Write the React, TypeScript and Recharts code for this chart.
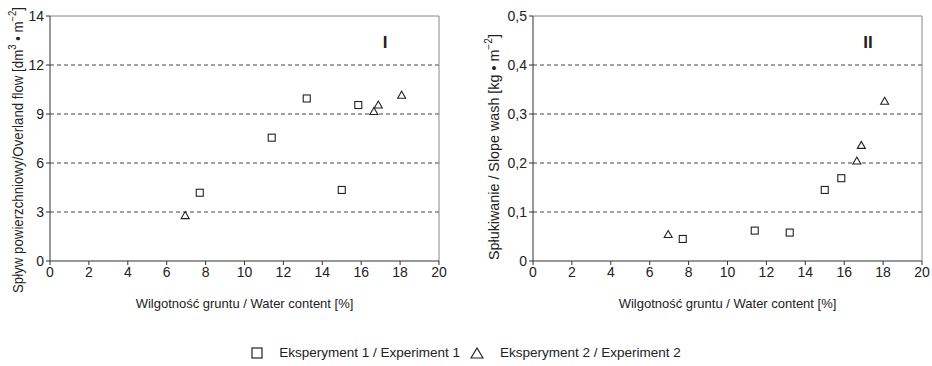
import React from 'react';
import { ScatterChart, Scatter, XAxis, YAxis, ReferenceLine, Label } from 'recharts';

// Water content [%] for both experiments
const waterContent1 = [7.7, 11.4, 13.2, 15.0, 15.85];
const waterContent2 = [6.95, 16.65, 16.88, 18.08];

// Panel I: overland flow [dm3 m-2]
const flow1 = [4.18, 7.55, 9.95, 4.35, 9.55];
const flow2 = [2.78, 9.15, 9.55, 10.15];

// Panel II: slope wash [kg m-2]
const wash1 = [0.045, 0.062, 0.058, 0.145, 0.169];
const wash2 = [0.054, 0.204, 0.236, 0.326];

const xTicks = [0, 2, 4, 6, 8, 10, 12, 14, 16, 18, 20];
const flowTicks = [0, 3, 6, 9, 12, 15];
const flowTickLabels = ['0', '3', '6', '9', '12', '14'];
const washTicks = [0, 0.1, 0.2, 0.3, 0.4, 0.5];

const FONT = "'Liberation Sans', Arial, sans-serif";
const INK = '#222';

const toPoints = (xs: number[], ys: number[]) => xs.map((x, i) => ({ x, y: ys[i] }));

const SquareDot = (props: any) => {
  const { cx, cy } = props;
  if (cx == null || cy == null) return null;
  return <rect x={cx - 3.5} y={cy - 3.5} width={7} height={7} fill="#fff" stroke={INK} strokeWidth={1.1} />;
};

const TriangleDot = (props: any) => {
  const { cx, cy } = props;
  if (cx == null || cy == null) return null;
  return (
    <polygon
      points={`${cx},${cy - 4} ${cx + 4},${cy + 3} ${cx - 4},${cy + 3}`}
      fill="#fff"
      stroke={INK}
      strokeWidth={1.1}
    />
  );
};

interface PanelProps {
  ys1: number[];
  ys2: number[];
  ticks: number[];
  tickFormat: (v: number) => string;
  yTitle: React.ReactNode;
  yTitleLength: number;
  yTitleX: number;
  yTitleY: number;
  tag: string;
}

function Panel({ ys1, ys2, ticks, tickFormat, yTitle, yTitleLength, yTitleX, yTitleY, tag }: PanelProps) {
  const top = ticks[ticks.length - 1];
  const tickStyle = { fontSize: 14, fill: INK, fontFamily: FONT };
  return (
    <ScatterChart width={466} height={320} margin={{ top: 16, right: 27, left: 10, bottom: 9 }}>
      <XAxis
        type="number"
        dataKey="x"
        domain={[0, 20]}
        ticks={xTicks}
        interval={0}
        height={50}
        tick={tickStyle}
        tickSize={4}
        tickMargin={2}
        stroke="#333"
        tickLine={{ stroke: '#333' }}
      >
        <Label
          value="Wilgotność gruntu / Water content [%]"
          position="insideBottom"
          offset={3}
          style={{ fontSize: 13, fill: INK, fontFamily: FONT }}
        />
      </XAxis>
      <YAxis
        type="number"
        dataKey="y"
        domain={[0, top]}
        ticks={ticks}
        interval={0}
        width={40}
        tick={tickStyle}
        tickFormatter={tickFormat}
        tickSize={4}
        tickMargin={2}
        stroke="#333"
        tickLine={{ stroke: '#333' }}
      >
        <Label
          content={() => (
            <text
              x={yTitleX}
              y={yTitleY}
              transform={`rotate(-90 ${yTitleX} ${yTitleY})`}
              textAnchor="middle"
              dominantBaseline="central"
              textLength={yTitleLength}
              lengthAdjust="spacingAndGlyphs"
              style={{ fontSize: 14, fill: INK, fontFamily: FONT }}
            >
              {yTitle}
            </text>
          )}
        />
      </YAxis>
      {ticks.slice(1, -1).map((t) => (
        <ReferenceLine key={t} y={t} stroke="#444" strokeDasharray="4 3" strokeWidth={1} />
      ))}
      <ReferenceLine y={top} stroke="#888" strokeWidth={1} />
      <ReferenceLine x={20} stroke="#888" strokeWidth={1}>
        <Label
          content={(p: any) => {
            const vb = p.viewBox || { x: 439, y: 16 };
            return (
              <text
                x={vb.x - 54}
                y={vb.y + 26}
                textAnchor="middle"
                dominantBaseline="central"
                style={{ fontSize: 17, fontWeight: 'bold', fill: INK, fontFamily: FONT }}
              >
                {tag}
              </text>
            );
          }}
        />
      </ReferenceLine>
      <Scatter data={toPoints(waterContent1, ys1)} shape={<SquareDot />} isAnimationActive={false} />
      <Scatter data={toPoints(waterContent2, ys2)} shape={<TriangleDot />} isAnimationActive={false} />
    </ScatterChart>
  );
}

export default function App() {
  return (
    <div
      style={{
        position: 'absolute',
        left: 0,
        top: 0,
        width: 932,
        height: 366,
        background: '#fff',
        fontFamily: FONT,
        color: INK,
      }}
    >
      <div style={{ position: 'absolute', left: 0, top: 0 }}>
        <Panel
          ys1={flow1}
          ys2={flow2}
          ticks={flowTicks}
          tickFormat={(v) => flowTickLabels[flowTicks.indexOf(v)] ?? String(v)}
          yTitle={
            <>
              Spływ powierzchniowy/Overland flow [dm
              <tspan baselineShift="super" fontSize={10}>3</tspan>
              {' • m'}
              <tspan baselineShift="super" fontSize={10}>−2</tspan>]
            </>
          }
          yTitleLength={286}
          yTitleX={18}
          yTitleY={150}
          tag="I"
        />
      </div>
      <div style={{ position: 'absolute', left: 483, top: 0 }}>
        <Panel
          ys1={wash1}
          ys2={wash2}
          ticks={washTicks}
          tickFormat={(v) => v.toFixed(1).replace('.', ',').replace(/^0,0$/, '0')}
          yTitle={
            <>
              Spłukiwanie / Slope wash [kg • m
              <tspan baselineShift="super" fontSize={10}>−2</tspan>]
            </>
          }
          yTitleLength={226}
          yTitleX={11}
          yTitleY={147}
          tag="II"
        />
      </div>
      <div
        style={{
          position: 'absolute',
          top: 345,
          left: 0,
          width: 932,
          display: 'flex',
          justifyContent: 'center',
          alignItems: 'center',
          fontSize: 13.5,
          lineHeight: '16px',
        }}
      >
        <svg width={12} height={12} style={{ marginRight: 16 }}>
          <rect x={1} y={1} width={10} height={10} fill="#fff" stroke={INK} strokeWidth={1.2} />
        </svg>
        <span style={{ marginRight: 10 }}>Eksperyment 1 / Experiment 1</span>
        <svg width={14} height={12} style={{ marginRight: 16 }}>
          <polygon points="7,1 13,11 1,11" fill="#fff" stroke={INK} strokeWidth={1.2} />
        </svg>
        <span>Eksperyment 2 / Experiment 2</span>
      </div>
    </div>
  );
}
